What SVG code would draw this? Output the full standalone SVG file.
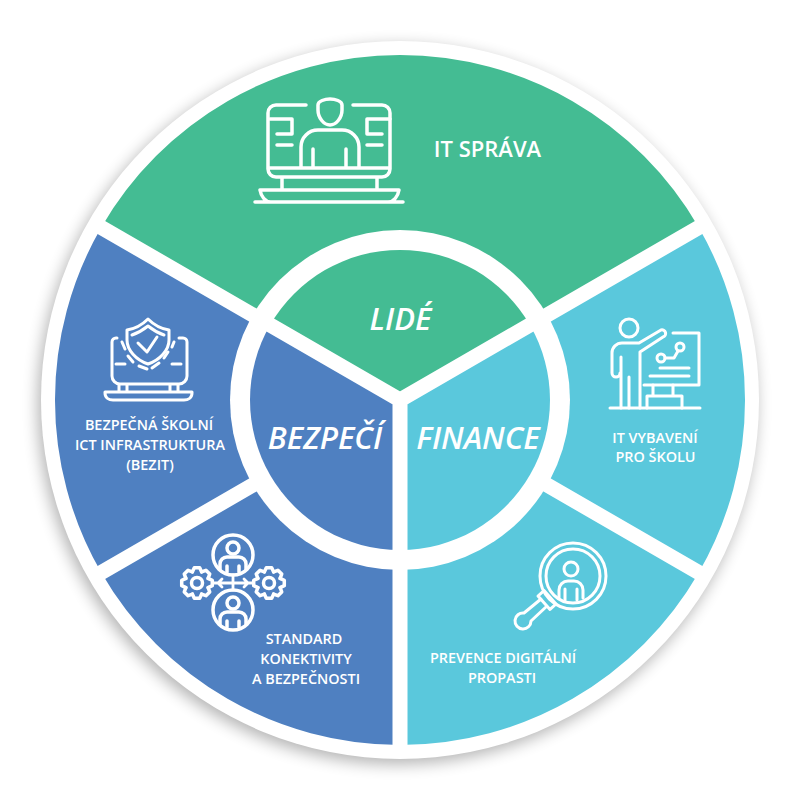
<svg xmlns="http://www.w3.org/2000/svg" width="800" height="800" viewBox="0 0 800 800">
<style>
.g{fill:#44bc93}.b{fill:#4f80c1}.c{fill:#5ac8dc}
.gap{stroke:#fff;stroke-width:15;fill:none}
.ic{fill:none;stroke:#fff;stroke-width:3.5;stroke-linecap:round;stroke-linejoin:round}
text{font-family:"Open Sans","Liberation Sans",sans-serif;fill:#fff;text-anchor:middle}
.l{font-size:14.4px;font-weight:600}
.m{font-size:31px;font-weight:600;font-style:italic}
</style>
<defs>
<filter id="sh" x="-10%" y="-10%" width="120%" height="120%"><feGaussianBlur stdDeviation="8"/></filter>
<path id="tooth" d="M-4.6-11.1L-2.7-15.3H2.7L4.6-11.1"/>
<g id="gear" class="ic">
<use href="#tooth"/><use href="#tooth" transform="rotate(45)"/><use href="#tooth" transform="rotate(90)"/><use href="#tooth" transform="rotate(135)"/><use href="#tooth" transform="rotate(180)"/><use href="#tooth" transform="rotate(225)"/><use href="#tooth" transform="rotate(270)"/><use href="#tooth" transform="rotate(315)"/>
<circle r="5.500"/>
</g>
<g id="person" class="ic">
<circle r="20"/><circle cy="-7" r="6"/><path d="M-13 14V9a7 7 0 0 1 7-7H6a7 7 0 0 1 7 7V14M-6 11V17M6 11V17"/>
</g>
</defs>
<circle cx="397" cy="405" r="359" fill="#000" opacity=".3" filter="url(#sh)"/>
<circle cx="400" cy="400" r="359" fill="#fff"/>
<g id="outer">
<path class="g" d="M400 400L101.200 227.500A345 345 0 0 1 698.800 227.500Z"/>
<path class="c" d="M400 400L698.800 227.500A345 345 0 0 1 400 745Z"/>
<path class="b" d="M400 400L400 745A345 345 0 0 1 101.200 227.500Z"/>
</g>
<g id="connectors">
<path class="gap" d="M400 400V750M400 400L97 225M400 400L703 225M400 400L97 575M400 400L703 575"/>
<circle cx="400" cy="400" r="170" fill="#fff"/>
</g>
<g id="inner">
<path class="g" d="M400 400L270.100 325A150 150 0 0 1 529.900 325Z"/>
<path class="c" d="M400 400L529.900 325A150 150 0 0 1 400 550Z"/>
<path class="b" d="M400 400L400 550A150 150 0 0 1 270.100 325Z"/>
<path class="gap" d="M400 400V555M400 400L265 322M400 400L535 322"/>
</g>
<g id="lide"><text class="m" x="400.500" y="330">LIDÉ</text></g>
<g id="bezpeci"><text class="m" x="325" y="449">BEZPEČÍ</text></g>
<g id="finance"><text class="m" x="478" y="449">FINANCE</text></g>
<g id="it-sprava">
<g class="ic">
<path d="M306 105H276a8 8 0 0 0-8 8V169a8 8 0 0 0 8 8H382a8 8 0 0 0 8-8V113a8 8 0 0 0-8-8H353M268 168H390"/>
<path d="M270 119H292V134H277M277 145H292M390 119H367V134H382M367 145H382"/>
<path d="M330 99C325 99 318 101 318 105V110C318 118 324 125 330 125C336 125 342 118 342 110V105C342 101 335 99 330 99Z"/>
<path d="M301 167V147A17 17 0 0 1 318 130H342A17 17 0 0 1 359 147V167M313 149V167M346 149V167"/>
<path d="M282 178V190M377 178V190M260 190H399C398 196 394 202 388 202H271C265 202 261 196 260 190ZM255 202H403"/>
</g>
<text x="487.500" y="157" font-size="22" font-weight="600">IT SPRÁVA</text>
</g>
<g id="bezpecna-skolni">
<g class="ic" style="stroke-width:3">
<path d="M117 338H116a4 4 0 0 0-4 4V376a8 8 0 0 0 8 8H179a8 8 0 0 0 8-8V342a4 4 0 0 0-4-4H179"/>
<path d="M119 385V391M127 385V391M170 385V391M178 385V391"/>
<path d="M105 392H192V393C192 398 188 400 184 400H113C109 400 105 398 105 393Z"/>
<path d="M148 319C142 325 134 329 127 330V340C127 350 136 360 148 364C160 360 169 350 169 340V330C162 329 154 325 148 319Z"/>
<path d="M132 335C138 333 143 330 148 326C153 330 158 333 164 335"/>
<path d="M138 343L147 352L157 337"/>
<path d="M122 342L125 349M128 356L133 362M139 366L147 369M152 368L159 363M164 358L168 352M172 347L174 342M116 364H125M172 364H181"/>
</g>
<text class="l" x="149" y="430">BEZPEČNÁ ŠKOLNÍ</text>
<text class="l" x="150" y="450">ICT INFRASTRUKTURA</text>
<text class="l" x="150" y="470">(BEZIT)</text>
</g>
<g id="standard">
<use href="#person" x="233" y="555"/>
<use href="#person" x="233" y="610"/>
<use href="#gear" x="197" y="583"/>
<use href="#gear" x="269" y="583"/>
<path class="ic" style="stroke-width:2.800" d="M233 575V590M213 583H253M222 579L218 583L222 587M244 579L248 583L244 587"/>
<text class="l" x="304" y="644">STANDARD</text>
<text class="l" x="306" y="664">KONEKTIVITY</text>
<text class="l" x="306" y="684">A BEZPEČNOSTI</text>
</g>
<g id="prevence">
<g class="ic" style="stroke-width:3">
<circle cx="573" cy="576" r="33"/><circle cx="573" cy="576" r="27"/>
<circle cx="571" cy="569" r="7"/>
<path d="M559 598V590A9 9 0 0 1 568 581H574A9 9 0 0 1 583 590V598M565 589V600M577 589V600"/>
<path d="M550 609.400L538 596L544 590.600L556 604ZM541 599L524 613A8 8 0 1 0 531 621L547 606"/>
</g>
<text class="l" x="503" y="663">PREVENCE DIGITÁLNÍ</text>
<text class="l" x="502" y="683">PROPASTI</text>
</g>
<g id="it-vybaveni">
<g class="ic" style="stroke-width:3">
<circle cx="629" cy="328" r="9"/>
<path d="M621 357V408M629 377V408M640 408V352L663 337A3.500 3.500 0 0 0 661 330L639 343H622A10 10 0 0 0 612 353V373A4 4 0 0 0 620 373"/>
<path d="M610 408H700"/>
<path d="M673 333H699V385H644"/>
<circle cx="661" cy="358" r="4"/><circle cx="680" cy="347" r="4"/>
<path d="M665 358H674L678 351M660 368H689M650 376H689M653 385V395M673 385V395M647 408V396H682V408"/>
</g>
<text class="l" x="655" y="443">IT VYBAVENÍ</text>
<text class="l" x="655.500" y="462">PRO ŠKOLU</text>
</g>
</svg>
